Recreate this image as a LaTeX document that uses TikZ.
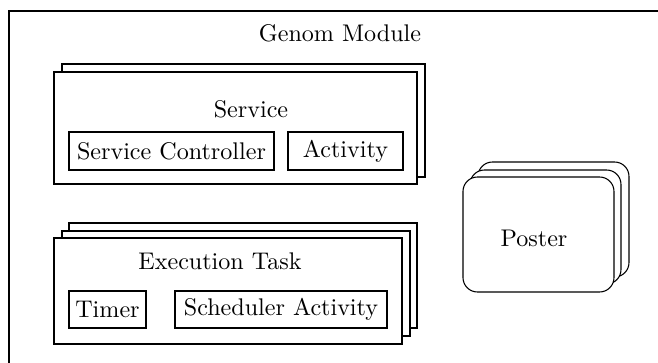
\documentclass[tikz,border=0pt]{standalone}
\usetikzlibrary{fit}
\begin{document}
\begin{tikzpicture}[x=0.415pt,y=-0.415pt,
  panel/.style={draw=black,fill=white,inner sep=0pt,line width=0.45pt},
  roundpanel/.style={panel,rounded corners=6pt},
  part/.style={draw=black,fill=white,inner sep=0pt,line width=0.45pt},
  caption/.style={inner sep=0pt,font=\normalsize}]
\useasboundingbox (0,0) rectangle (658,363);
\clip (0,0) rectangle (658,363);

% outer module frame (runs past the right and bottom edges)
\coordinate (mtl) at (9,11);
\coordinate (mbr) at (700,400);
\node[panel,fit=(mtl)(mbr)] (module) {};
\node[caption] (moduletitle) at (340,33) {Genom Module};

% service: one copy stacked behind
\node[panel,fit={(62,64)(425,177)}] (serviceback) {};
\node[panel,fit={(54,72)(417,184)}] (service) {};
\node[caption] (servicetitle) at (251,109) {Service};
\node[part,fit={(69,132)(274,170)}] (ctrlbox) {};
\node[caption] at (ctrlbox.center) (ctrl) {Service Controller};
\node[part,fit={(288,132)(403,170)}] (actbox) {};
\node[caption] at (actbox.center) (act) {Activity};

% execution task: two copies stacked behind
\node[panel,fit={(69,223)(417,328)}] (taskback2) {};
\node[panel,fit={(62,231)(410,336)}] (taskback1) {};
\node[panel,fit={(54,238)(402,344)}] (task) {};
\node[caption] (tasktitle) at (220,261) {Execution Task};
\node[part,fit={(69,291)(146,328)}] (timerbox) {};
\node[caption] at (timerbox.center) (timer) {Timer};
\node[part,fit={(175,291)(387,328)}] (schedbox) {};
\node[caption] at (schedbox.center) (sched) {Scheduler Activity};

% poster: two rounded copies stacked behind
\node[roundpanel,fit={(478,162)(629,277)}] (posterback2) {};
\node[roundpanel,fit={(470,170)(621,284)}] (posterback1) {};
\node[roundpanel,fit={(463,177)(614,292)}] (poster) {};
\node[caption] (postertitle) at (534,238) {Poster};
\end{tikzpicture}
\end{document}
